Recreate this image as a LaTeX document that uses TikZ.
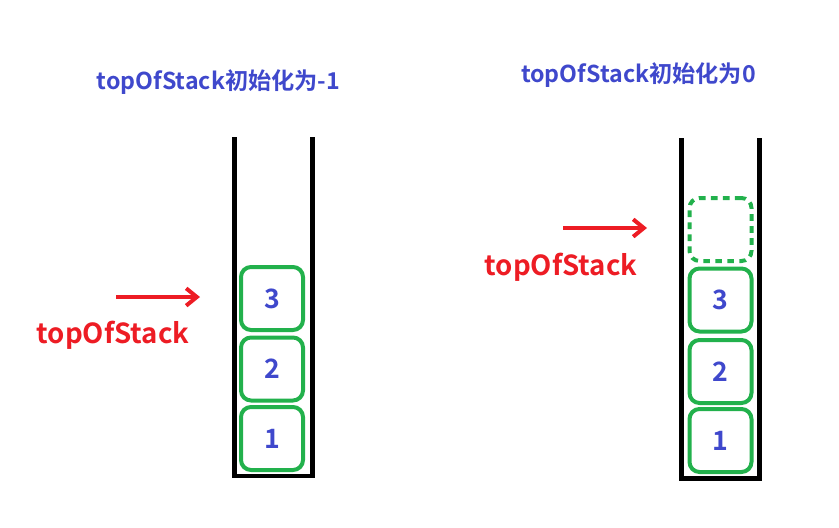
\documentclass[tikz,border=0pt]{standalone}
\usepackage{fontspec}
\setmainfont{Noto Sans CJK SC}[BoldFont={Noto Sans CJK SC Bold}]
\usetikzlibrary{arrows.meta}
\definecolor{indigo}{RGB}{63,72,204}
\definecolor{pred}{RGB}{237,28,36}
\definecolor{pgreen}{RGB}{34,177,76}
\tikzset{
	elem/.style={draw=pgreen,line width=3pt,rounded corners=7.5pt,minimum width=46.5pt,minimum height=47.25pt,inner sep=0pt,text=indigo,font=\bfseries\fontsize{20}{20}\selectfont},
	emptyelem/.style={elem,dash pattern=on 5pt off 4pt},
	wall/.style={line width=3.4pt,line join=miter,line cap=butt},
	ptr/.style={draw=pred,line width=3pt,-{Straight Barb[length=8pt,width=13pt,line width=3pt]}},
	headline/.style={text=indigo,font=\bfseries\fontsize{17.4}{17.4}\selectfont},
	ptrlabel/.style={text=pred,font=\bfseries\fontsize{20.7}{20.7}\selectfont}
}
\begin{document}
\begin{tikzpicture}[x=0.75pt,y=-0.75pt]
	\useasboundingbox (0,0) rectangle (839,528);
	% left stack
	\node[headline] (T1) at (218.5,82) {topOfStack初始化为-1};
	\draw[wall] (234.5,137)--(234.5,476)--(312.5,476)--(312.5,137);
	\node[elem] (L1) at (272,438.5) {1};
	\node[elem] (L2) at (272,369) {2};
	\node[elem] (L3) at (272,298.5) {3};
	\coordinate (P1) at (116,297);
	\coordinate (Q1) at (200,297);
	\draw[ptr] (P1)--(Q1);
	\node[ptrlabel] (N1) at (113,335) {topOfStack};
	% right stack
	\node[headline] (T2) at (638.5,75) {topOfStack初始化为0};
	\draw[wall] (681.5,138)--(681.5,478.5)--(759.5,478.5)--(759.5,138);
	\node[elem] (R1) at (720.5,440.5) {1};
	\node[elem] (R2) at (720.5,371.5) {2};
	\node[elem] (R3) at (720.5,300) {3};
	\node[emptyelem] (R4) at (720.5,229.5) {};
	\coordinate (P2) at (563,228);
	\coordinate (Q2) at (647,228);
	\draw[ptr] (P2)--(Q2);
	\node[ptrlabel] (N2) at (561,267) {topOfStack};
\end{tikzpicture}
\end{document}
